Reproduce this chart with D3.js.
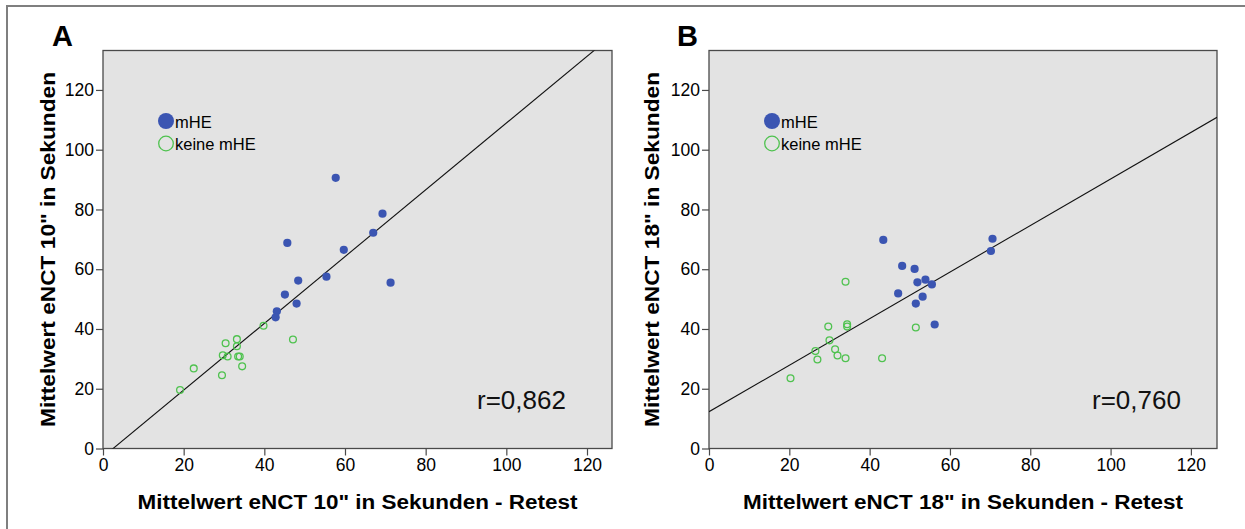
<!DOCTYPE html>
<html><head><meta charset="utf-8">
<script src="https://cdn.jsdelivr.net/npm/d3@7/dist/d3.min.js"></script>
<style>body{margin:0;background:#fff}svg{display:block}</style>
</head><body>
<svg id="c" width="1245" height="529"></svg>
<script>
// ---- Data ----
const tickValues = [0, 20, 40, 60, 80, 100, 120];
const seriesNames = ["mHE", "keine mHE"];
const panelLetters = ["A", "B"];
const xLabels = ['Mittelwert eNCT 10" in Sekunden - Retest', 'Mittelwert eNCT 18" in Sekunden - Retest'];
const yLabels = ['Mittelwert eNCT 10" in Sekunden', 'Mittelwert eNCT 18" in Sekunden'];
const rTexts = ["r=0,862", "r=0,760"];
// regression lines: [intercept, slope]
const fitA = [-2.8, 1.117];
const fitB = [12.3, 0.779];

// Panel A
const aMheX = [57.7, 69.3, 67.0, 45.7, 59.7, 48.4, 55.4, 71.3, 45.1, 48.0, 43.1, 42.8];
const aMheY = [90.6, 78.6, 72.2, 68.8, 66.5, 56.2, 57.5, 55.5, 51.5, 48.5, 45.9, 43.9];
const aKeineX = [39.8, 47.1, 33.2, 30.4, 33.2, 29.7, 30.9, 33.5, 33.9, 34.5, 22.5, 29.5, 19.1];
const aKeineY = [41.1, 36.5, 36.6, 35.2, 34.2, 31.2, 30.8, 30.8, 30.8, 27.5, 26.8, 24.5, 19.6];

// Panel B
const bMheX = [43.4, 70.6, 70.2, 48.1, 51.2, 51.9, 53.9, 55.5, 47.1, 53.2, 51.5, 56.2];
const bMheY = [69.8, 70.2, 66.1, 61.1, 60.1, 55.6, 56.5, 54.9, 51.9, 50.8, 48.5, 41.5];
const bKeineX = [34.0, 29.7, 34.4, 34.4, 51.5, 30.0, 31.4, 26.5, 32.0, 27.0, 34.0, 43.1, 20.3];
const bKeineY = [55.8, 40.8, 41.6, 40.8, 40.5, 36.2, 33.2, 32.6, 31.1, 29.8, 30.2, 30.2, 23.5];

const colMhe = "#3b55b2";
const colKeine = "#4fc24f";

const svg = d3.select("#c");
// outer border
svg.append("rect").attr("x", 7).attr("y", 6).attr("width", 1260).attr("height", 600)
  .attr("fill", "none").attr("stroke", "#7f7f7f").attr("stroke-width", 2);

const panels = [
  {left: 103, right: 612, xmax: 126.2, mx: aMheX, my: aMheY, kx: aKeineX, ky: aKeineY, fit: fitA, letterX: 52, ylabX: 55, rX: 477},
  {left: 709, right: 1217, xmax: 126.5, mx: bMheX, my: bMheY, kx: bKeineX, ky: bKeineY, fit: fitB, letterX: 677, ylabX: 659, rX: 1092}
];
const plotTop = 50.5, plotBottom = 448.5, ymax = 133.2;
const font = "Liberation Sans, Arial, sans-serif";

panels.forEach((p, i) => {
  const x = d3.scaleLinear().domain([0, p.xmax]).range([p.left, p.right]);
  const y = d3.scaleLinear().domain([0, ymax]).range([plotBottom, plotTop]);
  const g = svg.append("g");

  g.append("rect").attr("x", p.left).attr("y", plotTop)
    .attr("width", p.right - p.left).attr("height", plotBottom - plotTop)
    .attr("fill", "#e3e3e3").attr("stroke", "#4a4a4a").attr("stroke-width", 1.3);

  const clipId = "clip" + i;
  svg.append("clipPath").attr("id", clipId).append("rect")
    .attr("x", p.left).attr("y", plotTop).attr("width", p.right - p.left).attr("height", plotBottom - plotTop);

  // axes
  const ax = g.append("g").attr("transform", `translate(0,${plotBottom})`)
    .call(d3.axisBottom(x).tickValues(tickValues).tickSize(7).tickPadding(3).tickFormat(d3.format("d")));
  const ay = g.append("g").attr("transform", `translate(${p.left},0)`)
    .call(d3.axisLeft(y).tickValues(tickValues).tickSize(7).tickPadding(2).tickFormat(d3.format("d")));
  [ax, ay].forEach(a => {
    a.select(".domain").remove();
    a.selectAll(".tick line").attr("stroke", "#4a4a4a").attr("stroke-width", 1.2);
    a.selectAll(".tick text").attr("fill", "#000").style("font-family", font).style("font-size", "17.5px");
  });

  // regression line
  const [b0, b1] = p.fit;
  g.append("line").attr("clip-path", `url(#${clipId})`)
    .attr("x1", x(0)).attr("y1", y(b0))
    .attr("x2", x(p.xmax)).attr("y2", y(b0 + b1 * p.xmax))
    .attr("stroke", "#111").attr("stroke-width", 1.1);

  // points
  g.selectAll(".k").data(p.kx.map((v, j) => [v, p.ky[j]])).enter().append("circle")
    .attr("cx", d => x(d[0])).attr("cy", d => y(d[1])).attr("r", 3.4)
    .attr("fill", "none").attr("stroke", colKeine).attr("stroke-width", 1.3);
  g.selectAll(".m").data(p.mx.map((v, j) => [v, p.my[j]])).enter().append("circle")
    .attr("cx", d => x(d[0])).attr("cy", d => y(d[1])).attr("r", 4.1)
    .attr("fill", colMhe);

  // legend
  const lx = p.left + 63;
  g.append("circle").attr("cx", lx).attr("cy", 121).attr("r", 8).attr("fill", colMhe);
  g.append("circle").attr("cx", lx).attr("cy", 143.5).attr("r", 7.3).attr("fill", "none").attr("stroke", colKeine).attr("stroke-width", 1.3);
  g.append("text").attr("x", lx + 9).attr("y", 128).text(seriesNames[0])
    .style("font-family", font).style("font-size", "16.5px").attr("fill", "#000");
  g.append("text").attr("x", lx + 9).attr("y", 150).text(seriesNames[1])
    .style("font-family", font).style("font-size", "16.5px").attr("fill", "#000");

  // r text
  g.append("text").attr("x", p.rX).attr("y", 409).text(rTexts[i])
    .style("font-family", font).style("font-size", "26px").attr("fill", "#111");

  // panel letter
  g.append("text").attr("x", p.letterX).attr("y", 46).text(panelLetters[i])
    .style("font-family", font).style("font-size", "29px").style("font-weight", "bold").attr("fill", "#000");

  // axis titles
  const cx = (p.left + p.right) / 2;
  g.append("text").attr("x", cx).attr("y", 509).attr("text-anchor", "middle").text(xLabels[i])
    .attr("textLength", 440).attr("lengthAdjust", "spacingAndGlyphs")
    .style("font-family", font).style("font-size", "20px").style("font-weight", "bold").attr("fill", "#000");
  g.append("text").attr("transform", `translate(${p.ylabX},${(plotTop + plotBottom) / 2}) rotate(-90)`)
    .attr("text-anchor", "middle").text(yLabels[i])
    .attr("textLength", 355).attr("lengthAdjust", "spacingAndGlyphs")
    .style("font-family", font).style("font-size", "20px").style("font-weight", "bold").attr("fill", "#000");
});
</script>
</body></html>
